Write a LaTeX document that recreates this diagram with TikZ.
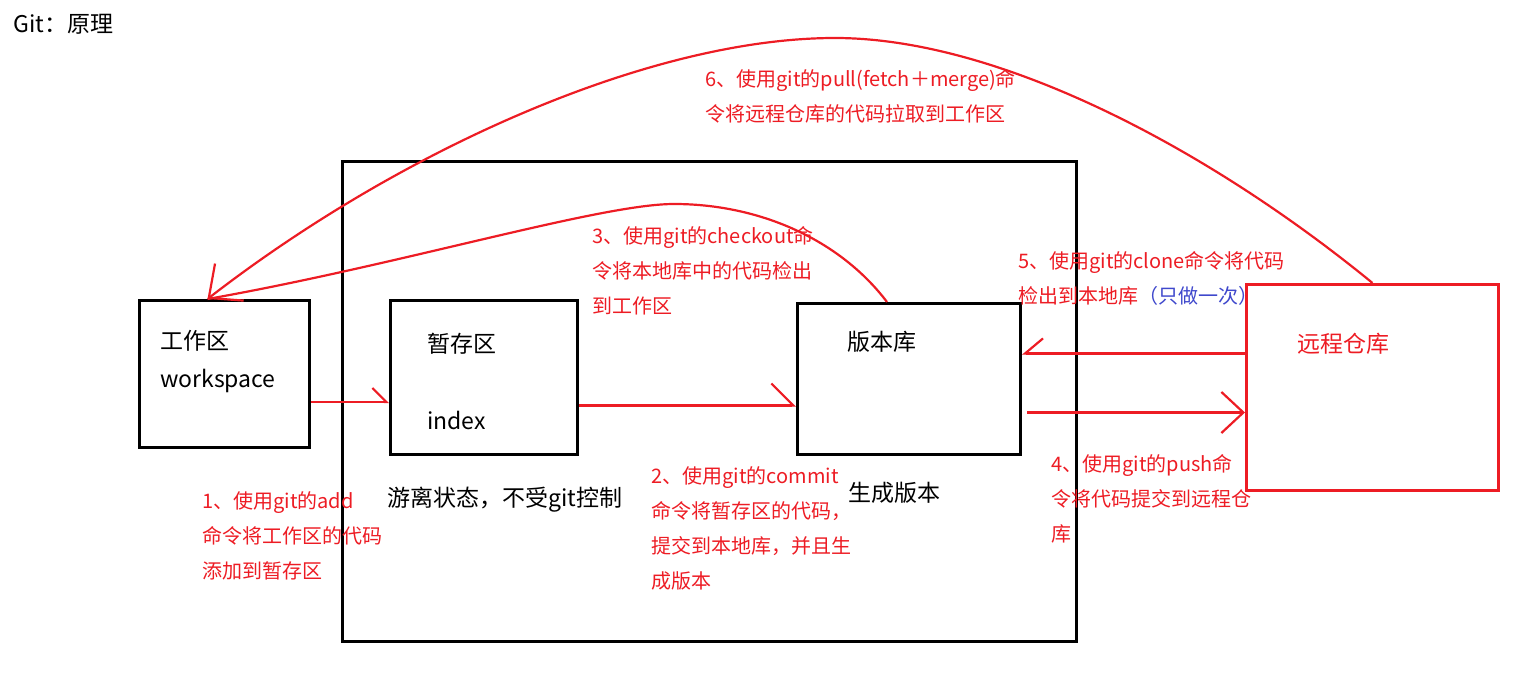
\documentclass[tikz,border=0pt]{standalone}
\usepackage{fontspec}
\setmainfont{Noto Sans CJK SC}
\usetikzlibrary{arrows.meta}
\definecolor{pred}{HTML}{ED1C24}
\definecolor{pblue}{HTML}{3F48CC}
\begin{document}
\begin{tikzpicture}[x=1pt,y=-1pt,
  box/.style={draw=black, line width=3pt, anchor=north west, inner sep=0pt},
  rbox/.style={draw=pred, line width=3pt, anchor=north west, inner sep=0pt},
  redline/.style={draw=pred, line width=2.2pt},
  lbl/.style={text=pred, anchor=north west, align=left, inner sep=0pt, font=\fontsize{20}{35}\selectfont},
  big/.style={anchor=base west, inner sep=0pt, font=\fontsize{23}{28}\selectfont},
  barbL/.style={-{Straight Barb[left, angle'=90, length=#1]}},
  barbR/.style={-{Straight Barb[right, angle'=80, length=#1]}},
  barbV/.style={-{Straight Barb[angle'=#1, length=22pt]}},
]
\useasboundingbox (0,0) rectangle (1522,690);

% title
\node[anchor=base west, inner sep=0pt, font=\fontsize{23}{28}\selectfont] (title) at (13,33) {Git：原理};

% boxes
\node[box, minimum width=734pt, minimum height=480pt] (outer) at (341,160) {};
\node[box, minimum width=170pt, minimum height=147pt] (ws) at (138,299) {};
\node[box, minimum width=187pt, minimum height=154pt] (idx) at (389,299) {};
\node[box, minimum width=223pt, minimum height=151pt] (repo) at (796,302) {};
\node[rbox, minimum width=252pt, minimum height=206pt] (remote) at (1245,283) {};

% box texts
\node[big] (wst1) at (160,349) {工作区};
\node[big] (wst2) at (160,387) {workspace};
\node[big] (idxt1) at (427,352) {暂存区};
\node[big] (idxt2) at (427,429) {index};
\node[big] (repot) at (847,350) {版本库};
\node[big, text=pred] (remotet) at (1297,352) {远程仓库};
\node[big] (free) at (387,506) {游离状态，不受git控制};
\node[big] (gen) at (848,501) {生成版本};

% red labels
\node[lbl] (l1) at (202,491) {1、使用git的add\\命令将工作区的代码\\添加到暂存区};
\node[lbl] (l2) at (651,466) {2、使用git的commit\\命令将暂存区的代码，\\提交到本地库，并且生\\成版本};
\node[lbl] (l3) at (592,226) {3、使用git的checkout命\\令将本地库中的代码检出\\到工作区};
\node[lbl] (l4) at (1051,454) {4、使用git的push命\\令将代码提交到远程仓\\库};
\node[lbl] (l5) at (1018,251) {5、使用git的clone命令将代码\\检出到本地库\textcolor{pblue}{（只做一次）}};
\node[lbl] (l6) at (705,69) {6、使用git的pull(fetch＋merge)命\\令将远程仓库的代码拉取到工作区};

% connectors
\coordinate (tip) at ([xshift=-17pt]ws.north);
\draw[redline, barbL=14pt] ([yshift=-28pt]ws.east) -- ([yshift=-28pt]ws.east -| idx.west);
\draw[redline, barbL=22pt] ([yshift=-28pt]idx.east) -- ([yshift=-28pt]idx.east -| repo.west);
\draw[redline, barbR=18pt] ([yshift=34pt]remote.west) -- ([yshift=34pt]remote.west -| repo.east);
\coordinate (p4) at ([yshift=-25pt]remote.west);
\draw[redline, barbV=86] ([xshift=5pt]p4 -| repo.east) -- (p4);

\draw[redline] ([xshift=-22pt]repo.north) .. controls (840,240) and (760,204) .. (674,204)
  .. controls (600,204) and (400,265) .. (tip);
\draw[redline, -{Straight Barb[angle'=84, length=26pt]}] (remote.north) .. controls (1210,150) and (1000,38) .. (835,38)
  .. controls (650,38) and (400,150) .. (tip);
\end{tikzpicture}
\end{document}
